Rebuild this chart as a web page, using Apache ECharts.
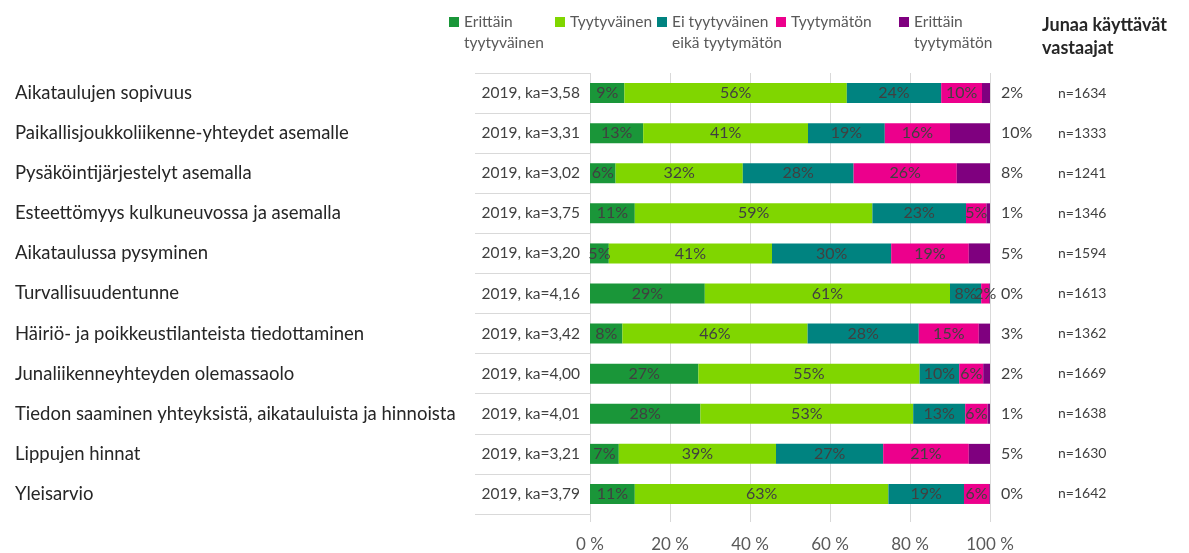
<!DOCTYPE html>
<html>
<head>
<meta charset="utf-8">
<script src="https://cdn.jsdelivr.net/npm/echarts@6/dist/echarts.min.js"></script>
<style>
  html, body { margin: 0; padding: 0; background: #fff; }
  #chart { width: 1189px; height: 553px; }
</style>
</head>
<body>
<div id="chart"></div>
<script>
// kysymykset ylhäältä alas
const questions = [
    'Aikataulujen sopivuus',
    'Paikallisjoukkoliikenne-yhteydet asemalle',
    'Pysäköintijärjestelyt asemalla',
    'Esteettömyys kulkuneuvossa ja asemalla',
    'Aikataulussa pysyminen',
    'Turvallisuudentunne',
    'Häiriö- ja poikkeustilanteista tiedottaminen',
    'Junaliikenneyhteyden olemassaolo',
    'Tiedon saaminen yhteyksistä, aikatauluista ja hinnoista',
    'Lippujen hinnat',
    'Yleisarvio'
];
const yearLabels = [
    '2019, ka=3,58', '2019, ka=3,31', '2019, ka=3,02', '2019, ka=3,75',
    '2019, ka=3,20', '2019, ka=4,16', '2019, ka=3,42', '2019, ka=4,00',
    '2019, ka=4,01', '2019, ka=3,21', '2019, ka=3,79'
];
const nLabels = [
    'n=1634', 'n=1333', 'n=1241', 'n=1346', 'n=1594', 'n=1613',
    'n=1362', 'n=1669', 'n=1638', 'n=1630', 'n=1642'
];
// osuudet (%)
const veryHappy   = [8.6, 13.3, 6.4, 11.2, 4.7, 28.7, 8.1, 27.1, 27.6, 7.2, 11.2];
const happy       = [55.6, 41.2, 31.8, 59.4, 40.8, 61.3, 46.3, 55.3, 53.2, 39.3, 63.4];
const neutral     = [23.6, 19.2, 27.7, 23.4, 29.8, 7.8, 27.8, 9.9, 13.0, 26.8, 18.9];
const unhappy     = [10.2, 16.3, 25.8, 5.1, 19.4, 2.0, 15.0, 6.0, 5.6, 21.4, 6.3];
const veryUnhappy = [2.0, 10.0, 8.3, 0.9, 5.3, 0.2, 2.8, 1.7, 0.6, 5.3, 0.2];
const xTicks = [0, 20, 40, 60, 80, 100];

const names = ['Erittäin\ntyytyväinen', 'Tyytyväinen', 'Ei tyytyväinen\neikä tyytymätön', 'Tyytymätön', 'Erittäin\ntyytymätön'];
const colors = ['#1a9639', '#80d600', '#008380', '#ec008c', '#7f007f'];
const values = [veryHappy, happy, neutral, unhappy, veryUnhappy];
const legendX = [449, 555, 657, 776, 899];

const FONT = 'Lato';
const chart = echarts.init(document.getElementById('chart'));

// kaksirivisissä selitteissä tyhjä rivi alkuun, jotta ikoni osuu ensimmäiselle riville
const legends = names.map((name, i) => {
    const twoLine = name.indexOf('\n') >= 0;
    return {
        data: [name],
        left: legendX[i],
        top: twoLine ? -9.5 : 11.5,
        padding: 0,
        itemWidth: 10,
        itemHeight: 10,
        itemGap: 4,
        icon: 'rect',
        selectedMode: false,
        formatter: n => (twoLine ? '\n' : '') + n,
        textStyle: { fontFamily: FONT, fontSize: 15.5, lineHeight: 21, color: '#595959' }
    };
});

const series = names.map((name, i) => ({
    name: name,
    type: 'bar',
    stack: 'all',
    barWidth: 20,
    data: values[i],
    itemStyle: { color: colors[i] },
    label: {
        show: true,
        position: i === 4 ? 'right' : 'inside',
        distance: 11,
        formatter: p => Math.round(p.value) + '%',
        fontFamily: FONT,
        fontSize: 16,
        color: '#404040'
    }
}));

chart.setOption({
    animation: false,
    textStyle: { fontFamily: FONT },
    title: {
        text: 'Junaa käyttävät\nvastaajat',
        left: 1037,
        top: 9,
        textStyle: { fontFamily: FONT, fontSize: 18, fontWeight: 'bold', lineHeight: 23, color: '#262626' }
    },
    legend: legends,
    grid: { left: 590, right: 199, top: 73, bottom: 39 },
    xAxis: {
        type: 'value',
        min: 0,
        max: 100,
        interval: 20,
        axisLine: { show: false },
        axisTick: { show: true, length: 8, lineStyle: { color: '#d9d9d9' } },
        splitLine: { show: true, lineStyle: { color: '#d9d9d9' } },
        axisLabel: {
            formatter: v => xTicks.indexOf(v) >= 0 ? v + ' %' : '',
            fontFamily: FONT, fontSize: 17, color: '#595959', margin: 22
        }
    },
    yAxis: [
        {
            type: 'category',
            data: questions,
            inverse: true,
            position: 'left',
            offset: 0,
            axisLine: { show: false },
            axisTick: { show: false },
            axisLabel: { align: 'left', margin: 575, fontFamily: FONT, fontSize: 18.5, color: '#262626' }
        },
        {
            type: 'category',
            data: yearLabels,
            inverse: true,
            position: 'left',
            offset: 0,
            axisLine: { show: false },
            axisTick: { show: true, inside: false, length: 115, lineStyle: { color: '#d9d9d9' } },
            axisLabel: { margin: 10, fontFamily: FONT, fontSize: 15.5, color: '#404040' }
        },
        {
            type: 'category',
            data: nLabels,
            inverse: true,
            position: 'right',
            offset: 0,
            axisLine: { show: false },
            axisTick: { show: false },
            axisLabel: { align: 'left', margin: 68, fontFamily: FONT, fontSize: 14, color: '#404040' }
        }
    ],
    series: series
});

window.addEventListener('resize', () => {
    setTimeout(() => {
        chart.resize();
    }, 10);
});
</script>
</body>
</html>
